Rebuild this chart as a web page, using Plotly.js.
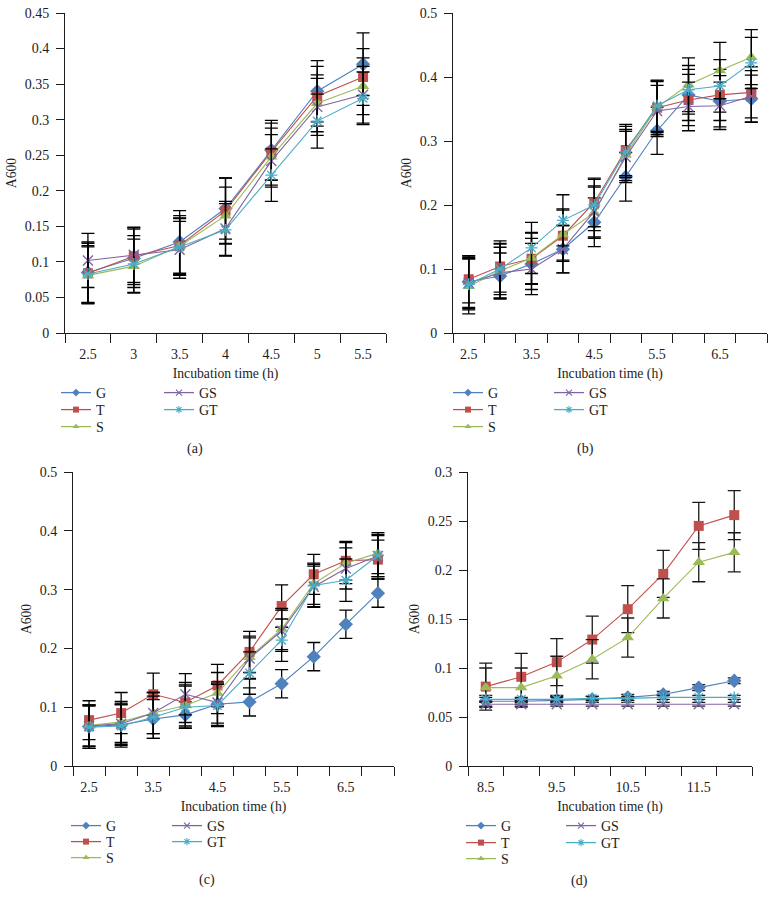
<!DOCTYPE html>
<html>
<head>
<meta charset="utf-8">
<script src="https://cdn.plot.ly/plotly-3.0.1.min.js"></script>
<style>
  html, body { margin: 0; padding: 0; background: #ffffff; }
  #chart { width: 776px; height: 907px; }
</style>
</head>
<body>
<div id="chart"></div>
<script>
// ---------- DATA ----------
const seriesNames = ['G', 'T', 'S', 'GS', 'GT'];

// Panel (a)
const timesA = [2.5, 3, 3.5, 4, 4.5, 5, 5.5];
const aG  = [0.085, 0.105, 0.128, 0.175, 0.257, 0.340, 0.378];
const aT  = [0.084, 0.108, 0.123, 0.172, 0.255, 0.333, 0.360];
const aS  = [0.081, 0.094, 0.122, 0.165, 0.248, 0.323, 0.347];
const aGS = [0.102, 0.110, 0.117, 0.147, 0.242, 0.318, 0.335];
const aGT = [0.083, 0.097, 0.121, 0.145, 0.222, 0.298, 0.330];
const aGerr  = [0.043, 0.041, 0.044, 0.043, 0.042, 0.043, 0.044];
const aTerr  = [0.042, 0.040, 0.042, 0.046, 0.040, 0.042, 0.040];
const aSerr  = [0.040, 0.038, 0.040, 0.040, 0.040, 0.040, 0.040];
const aGSerr = [0.038, 0.039, 0.040, 0.038, 0.037, 0.040, 0.040];
const aGTerr = [0.040, 0.040, 0.040, 0.037, 0.037, 0.038, 0.037];

// Panel (b)
const timesB = [2.5, 3, 3.5, 4, 4.5, 5, 5.5, 6, 6.5, 7];
const bG  = [0.080, 0.089, 0.108, 0.131, 0.173, 0.244, 0.316, 0.372, 0.362, 0.366];
const bT  = [0.084, 0.104, 0.116, 0.152, 0.204, 0.286, 0.352, 0.364, 0.372, 0.376];
const bS  = [0.073, 0.097, 0.117, 0.154, 0.188, 0.278, 0.353, 0.388, 0.410, 0.431];
const bGS = [0.078, 0.094, 0.100, 0.131, 0.190, 0.275, 0.347, 0.354, 0.355, 0.370];
const bGT = [0.076, 0.100, 0.133, 0.176, 0.200, 0.283, 0.355, 0.380, 0.386, 0.422];
const bGerr  = [0.040, 0.036, 0.040, 0.037, 0.038, 0.038, 0.037, 0.040, 0.040, 0.037];
const bTerr  = [0.037, 0.040, 0.040, 0.040, 0.038, 0.040, 0.042, 0.040, 0.040, 0.040];
const bSerr  = [0.043, 0.042, 0.040, 0.040, 0.040, 0.040, 0.040, 0.042, 0.044, 0.043];
const bGSerr = [0.040, 0.040, 0.040, 0.037, 0.040, 0.040, 0.040, 0.038, 0.037, 0.040];
const bGTerr = [0.040, 0.040, 0.040, 0.040, 0.040, 0.040, 0.040, 0.038, 0.041, 0.040];

// Panel (c)
const timesC = [2.5, 3, 3.5, 4, 4.5, 5, 5.5, 6, 6.5, 7];
const cG  = [0.067, 0.070, 0.080, 0.087, 0.105, 0.109, 0.140, 0.186, 0.241, 0.294];
const cT  = [0.078, 0.090, 0.122, 0.108, 0.137, 0.194, 0.272, 0.326, 0.349, 0.351];
const cS  = [0.069, 0.075, 0.090, 0.103, 0.124, 0.185, 0.233, 0.310, 0.345, 0.362];
const cGS = [0.068, 0.072, 0.090, 0.122, 0.108, 0.183, 0.230, 0.305, 0.336, 0.357];
const cGT = [0.066, 0.068, 0.083, 0.100, 0.103, 0.158, 0.214, 0.307, 0.316, 0.358];
const cGerr  = [0.037, 0.035, 0.033, 0.022, 0.036, 0.024, 0.024, 0.024, 0.024, 0.024];
const cTerr  = [0.033, 0.035, 0.036, 0.034, 0.036, 0.035, 0.036, 0.034, 0.033, 0.033];
const cSerr  = [0.035, 0.035, 0.035, 0.035, 0.035, 0.036, 0.035, 0.035, 0.035, 0.035];
const cGSerr = [0.035, 0.035, 0.035, 0.035, 0.035, 0.035, 0.035, 0.035, 0.035, 0.035];
const cGTerr = [0.036, 0.036, 0.036, 0.036, 0.036, 0.036, 0.036, 0.036, 0.036, 0.036];

// Panel (d)
const timesD = [8.5, 9, 9.5, 10, 10.5, 11, 11.5, 12];
const dG  = [0.066, 0.066, 0.067, 0.068, 0.070, 0.073, 0.080, 0.087];
const dT  = [0.081, 0.091, 0.106, 0.129, 0.160, 0.196, 0.245, 0.256];
const dS  = [0.080, 0.080, 0.092, 0.109, 0.131, 0.171, 0.208, 0.218];
const dGS = [0.063, 0.063, 0.063, 0.063, 0.063, 0.063, 0.063, 0.063];
const dGT = [0.068, 0.068, 0.068, 0.069, 0.069, 0.070, 0.070, 0.070];
const dGerr  = [0.006, 0.003, 0.004, 0.003, 0.003, 0.003, 0.003, 0.003];
const dTerr  = [0.024, 0.024, 0.024, 0.024, 0.024, 0.024, 0.024, 0.025];
const dSerr  = [0.020, 0.020, 0.020, 0.020, 0.020, 0.020, 0.020, 0.020];
const dGSerr = [0.002, 0.002, 0.002, 0.002, 0.002, 0.002, 0.002, 0.002];
const dGTerr = [0.002, 0.002, 0.002, 0.002, 0.002, 0.002, 0.002, 0.002];

// Tick labels
const xTickValsA = [2.5, 3, 3.5, 4, 4.5, 5, 5.5];
const xTickTextA = ['2.5', '3', '3.5', '4', '4.5', '5', '5.5'];
const xTickValsB = [2.5, 3.5, 4.5, 5.5, 6.5];
const xTickTextB = ['2.5', '3.5', '4.5', '5.5', '6.5'];
const xTickValsD = [8.5, 9.5, 10.5, 11.5];
const xTickTextD = ['8.5', '9.5', '10.5', '11.5'];
const yTickValsA = [0, 0.05, 0.1, 0.15, 0.2, 0.25, 0.3, 0.35, 0.4, 0.45];
const yTickTextA = ['0', '0.05', '0.1', '0.15', '0.2', '0.25', '0.3', '0.35', '0.4', '0.45'];
const yTickValsB = [0, 0.1, 0.2, 0.3, 0.4, 0.5];
const yTickTextB = ['0', '0.1', '0.2', '0.3', '0.4', '0.5'];
const yTickValsD = [0, 0.05, 0.1, 0.15, 0.2, 0.25, 0.3];
const yTickTextD = ['0', '0.05', '0.1', '0.15', '0.2', '0.25', '0.3'];

const xTitle = 'Incubation time (h)';
const yTitle = 'A600';
const panelLabels = ['(a)', '(b)', '(c)', '(d)'];

// ---------- STYLE ----------
const W = 776, H = 907;
const FONT = '"Liberation Serif", "Times New Roman", serif';
const INK = '#1e1b1c';
const styles = {
  G:  { color: '#4F81BD', symbol: 'diamond', size: 11, open: false },
  T:  { color: '#C0504D', symbol: 'square', size: 10, open: false },
  S:  { color: '#9BBB59', symbol: 'triangle-up', size: 11, open: false },
  GS: { color: '#8064A2', symbol: 'x-thin-open', size: 10, open: true },
  GT: { color: '#4BACC6', symbol: 'asterisk-open', size: 10, open: true }
};

const px = (x) => x / W;
const py = (y) => 1 - y / H;

// legend: [col1 line start, col2 line start, row1 y, row2 y, row3 y]
const panels = [
  { xs: timesA, data: [aG, aT, aS, aGS, aGT], errs: [aGerr, aTerr, aSerr, aGSerr, aGTerr],
    box: [65, 386, 13, 333], yRange: [0, 0.45], yv: yTickValsA, yt: yTickTextA, xv: xTickValsA, xt: xTickTextA,
    errColor: '#000000', label: [195, 449], leg: [63, 166, 393, 410, 427] },
  { xs: timesB, data: [bG, bT, bS, bGS, bGT], errs: [bGerr, bTerr, bSerr, bGSerr, bGTerr],
    box: [453, 767, 13, 333], yRange: [0, 0.5], yv: yTickValsB, yt: yTickTextB, xv: xTickValsB, xt: xTickTextB,
    errColor: '#000000', label: [585, 449], leg: [455, 556, 393, 410, 427] },
  { xs: timesC, data: [cG, cT, cS, cGS, cGT], errs: [cGerr, cTerr, cSerr, cGSerr, cGTerr],
    box: [73, 394, 472, 766], yRange: [0, 0.5], yv: yTickValsB, yt: yTickTextB, xv: xTickValsB, xt: xTickTextB,
    errColor: '#000000', label: [207, 880], leg: [73, 174, 826, 842, 858] },
  { xs: timesD, data: [dG, dT, dS, dGS, dGT], errs: [dGerr, dTerr, dSerr, dGSerr, dGTerr],
    box: [468, 752, 472, 766], yRange: [0, 0.3], yv: yTickValsD, yt: yTickTextD, xv: xTickValsD, xt: xTickTextD,
    errColor: '#1a1a1a', label: [579, 881], leg: [468, 568, 826, 843, 859] }
];

const traces = [];
const legendTraces = [];
const layout = {
  width: W, height: H,
  margin: { l: 0, r: 0, t: 0, b: 0, pad: 0 },
  paper_bgcolor: '#ffffff', plot_bgcolor: '#ffffff',
  font: { family: FONT, color: INK, size: 13.5 },
  showlegend: true,
  annotations: []
};

let legendCount = 0;
panels.forEach((p, i) => {
  const n = i + 1;
  const xa = n === 1 ? 'x' : 'x' + n;
  const ya = n === 1 ? 'y' : 'y' + n;
  const xKey = n === 1 ? 'xaxis' : 'xaxis' + n;
  const yKey = n === 1 ? 'yaxis' : 'yaxis' + n;
  const step = p.xs[1] - p.xs[0];
  const bounds = p.xs.map(v => v - step / 2).concat([p.xs[p.xs.length - 1] + step / 2]);

  seriesNames.forEach((name, k) => {
    const st = styles[name];
    traces.push({
      type: 'scatter', mode: 'lines+markers', name: name,
      x: p.xs, y: p.data[k],
      xaxis: xa, yaxis: ya, showlegend: false,
      line: { color: st.color, width: 1.1 },
      marker: {
        symbol: st.symbol, size: st.size, color: st.color,
        line: { color: st.color, width: st.open ? 1.4 : 0 }
      },
      error_y: { type: 'data', array: p.errs[k], visible: true, color: p.errColor, thickness: 1.3, width: 6.5 },
      hoverinfo: 'skip'
    });

    // legend-only entry with small key marker
    legendCount += 1;
    const legKey = legendCount === 1 ? 'legend' : 'legend' + legendCount;
    legendTraces.push({
      type: 'scatter', mode: 'lines+markers', name: name,
      x: [null], y: [null], xaxis: xa, yaxis: ya,
      legend: legKey, showlegend: true,
      line: { color: st.color, width: 1.3 },
      marker: { symbol: st.symbol, size: 6, color: st.color,
                line: { color: st.color, width: st.open ? 1.1 : 0 } },
      hoverinfo: 'skip'
    });
    const col = k < 3 ? 0 : 1;
    const row = k < 3 ? k : k - 3;
    layout[legKey] = {
      x: px(p.leg[col] - 7), y: py(p.leg[2 + row]),
      xanchor: 'left', yanchor: 'middle',
      bgcolor: 'rgba(0,0,0,0)', borderwidth: 0,
      font: { family: FONT, size: 14, color: INK },
      itemwidth: 30, tracegroupgap: 0,
      itemclick: false, itemdoubleclick: false
    };
  });

  layout[xKey] = {
    domain: [px(p.box[0]), px(p.box[1])],
    anchor: ya,
    range: [bounds[0], bounds[bounds.length - 1]],
    tickmode: 'array', tickvals: p.xv, ticktext: p.xt,
    ticks: '', showgrid: false, zeroline: false,
    showline: true, linecolor: INK, linewidth: 1,
    tickfont: { family: FONT, size: 14, color: INK },
    ticklabelstandoff: 8,
    minor: { tickmode: 'array', tickvals: bounds, ticks: 'outside', ticklen: 9, tickwidth: 1, tickcolor: INK, showgrid: false },
    title: { text: xTitle, font: { family: FONT, size: 13.7, color: INK }, standoff: 7 },
    fixedrange: true
  };
  layout[yKey] = {
    domain: [py(p.box[3]), py(p.box[2])],
    anchor: xa,
    range: p.yRange,
    tickmode: 'array', tickvals: p.yv, ticktext: p.yt,
    ticks: 'outside', ticklen: 8, tickwidth: 1, tickcolor: INK,
    showgrid: false, zeroline: false,
    showline: true, linecolor: INK, linewidth: 1,
    tickfont: { family: FONT, size: 14, color: INK },
    ticklabelstandoff: 4,
    title: { text: yTitle, font: { family: FONT, size: 13.7, color: INK }, standoff: 4 },
    fixedrange: true
  };

  layout.annotations.push({
    text: panelLabels[i], xref: 'paper', yref: 'paper',
    x: px(p.label[0]), y: py(p.label[1]), xanchor: 'center', yanchor: 'middle',
    showarrow: false, font: { family: FONT, size: 14, color: INK }
  });
});

Plotly.newPlot('chart', traces.concat(legendTraces), layout, { staticPlot: true, displayModeBar: false });
</script>
</body>
</html>
